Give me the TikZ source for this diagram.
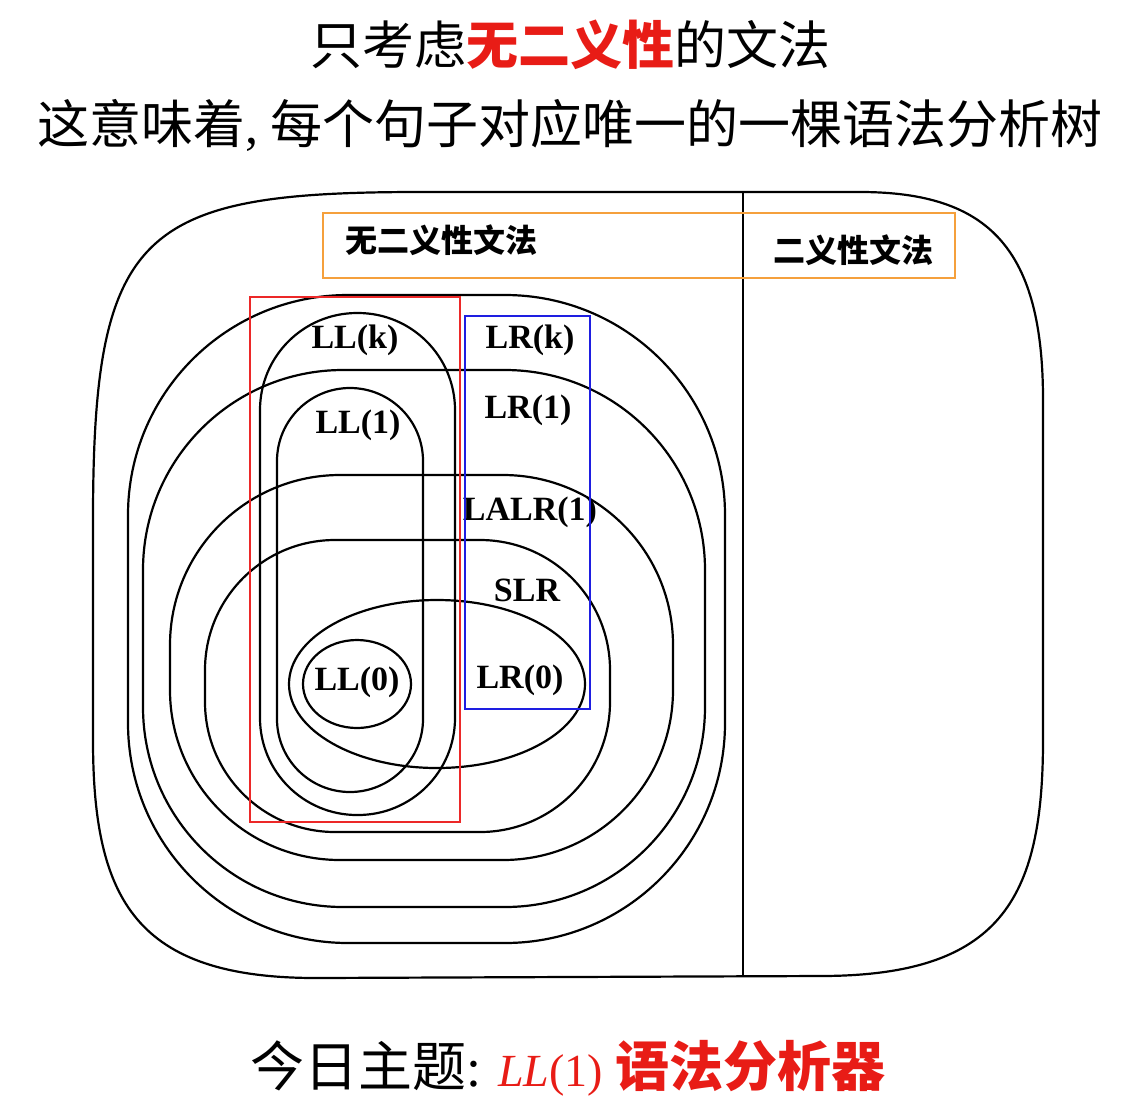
\documentclass[tikz,border=0pt]{standalone}
\usepackage{fontspec}
\setmainfont{Liberation Serif}
\newfontfamily\cjk{Noto Sans CJK SC}
\usetikzlibrary{positioning}
\definecolor{hired}{RGB}{232,28,22}
\definecolor{boxred}{RGB}{236,40,40}
\definecolor{boxblue}{RGB}{30,30,225}
\definecolor{boxorange}{RGB}{245,160,60}

\begin{document}
\begin{tikzpicture}[x=1pt, y=-1pt, set/.style={draw, line width=2.2pt}, frame/.style={draw, line width=1.9pt}, lang/.style={font=\fontsize{34}{34}\selectfont\bfseries, inner sep=0pt}, head/.style={font=\fontsize{52}{52}\selectfont\cjk, inner sep=0pt}, cn/.style={font=\fontsize{32}{32}\selectfont\cjk\bfseries, inner sep=0pt}]
			\useasboundingbox (0,0) rectangle (1134,1101);

			\node[head] (title) at (570,45) {只考虑{\color{hired}\bfseries 无二义性}的文法};
			\node[head] (mean) at (570,125) {这意味着{\rmfamily,} 每个句子对应唯一的一棵语法分析树};

			% all grammars, split by the divider
			\draw[set] (93,520) .. controls (93,230) and (140,192) .. (420,192) -- (860,192) .. controls (990,192) and (1043,250) .. (1043,400) -- (1043,740) .. controls (1043,900) and (1000,976) .. (820,976) -- (316,978) .. controls (136,978) and (93,900) .. (93,740) -- cycle;
			\coordinate (divtop) at (743,192);
			\coordinate (divbot) at (743,977);
			\draw[set] (divtop) -- (divbot);

			% LR family
			\draw[set, rounded corners=220] (128,295) rectangle (725,943);
			\draw[set, rounded corners=200] (143,370) rectangle (705,907);
			\draw[set, rounded corners=170] (170,475) rectangle (673,860);
			\draw[set, rounded corners=130] (205,540) rectangle (610,832);
			\draw[set] (437,684) ellipse [x radius=148pt, y radius=84pt];

			% LL family
			\draw[set, rounded corners=97] (260,313) rectangle (455,815);
			\draw[set, rounded corners=73] (277,388) rectangle (423,792);
			\draw[set] (357,684) ellipse [x radius=54pt, y radius=44pt];

			\node[lang] (llk) at (355,340) {LL(k)};
			\node[lang] (ll1) at (358,425) {LL(1)};
			\node[lang] (ll0) at (357,682) {LL(0)};
			\node[lang] (lrk) at (530,340) {LR(k)};
			\node[lang] (lr1) at (528,410) {LR(1)};
			\node[lang] (lalr) at (530,512) {LALR(1)};
			\node[lang] (slr) at (527,590) {SLR};
			\node[lang] (lr0) at (520,680) {LR(0)};

			% annotations
			\draw[frame, boxorange] (323,213) rectangle (955,278);
			\draw[frame, boxred] (250,297) rectangle (460,822);
			\draw[frame, boxblue] (465,316) rectangle (590,709);
			\node[cn, anchor=west] (unamb) at (345,240) {无二义性文法};
			\node[cn] (amb) at (853,250) {二义性文法};

			\node[head, font=\fontsize{54}{54}\selectfont\cjk] (topic) at (568,1068) {今日主题{\rmfamily:} \textcolor{hired}{{\rmfamily\fontsize{46}{46}\selectfont\itshape LL\upshape(1)} \bfseries 语法分析器}};
		\end{tikzpicture}
\end{document}
